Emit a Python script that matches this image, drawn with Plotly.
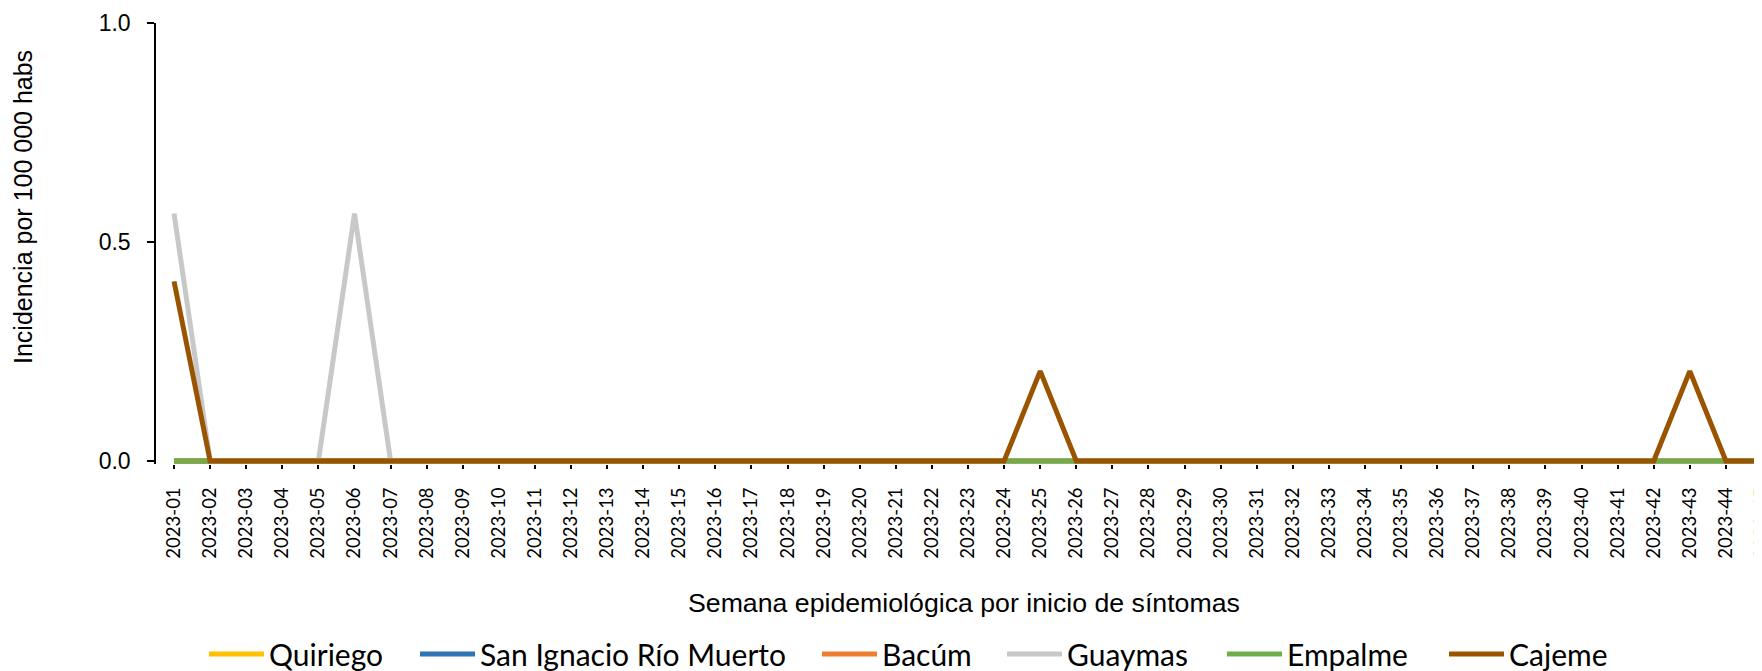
import plotly.graph_objects as go

weeks = ["2023-01", "2023-02", "2023-03", "2023-04", "2023-05", "2023-06", "2023-07", "2023-08",
         "2023-09", "2023-10", "2023-11", "2023-12", "2023-13", "2023-14", "2023-15", "2023-16",
         "2023-17", "2023-18", "2023-19", "2023-20", "2023-21", "2023-22", "2023-23", "2023-24",
         "2023-25", "2023-26", "2023-27", "2023-28", "2023-29", "2023-30", "2023-31", "2023-32",
         "2023-33", "2023-34", "2023-35", "2023-36", "2023-37", "2023-38", "2023-39", "2023-40",
         "2023-41", "2023-42", "2023-43", "2023-44", "2023-45"]

quiriego = [0, 0, 0, 0, 0, 0, 0, 0, 0, 0, 0, 0, 0, 0, 0, 0, 0, 0, 0, 0, 0, 0, 0, 0, 0,
            0, 0, 0, 0, 0, 0, 0, 0, 0, 0, 0, 0, 0, 0, 0, 0, 0, 0, 0, 0]
san_ignacio = [0, 0, 0, 0, 0, 0, 0, 0, 0, 0, 0, 0, 0, 0, 0, 0, 0, 0, 0, 0, 0, 0, 0, 0, 0,
               0, 0, 0, 0, 0, 0, 0, 0, 0, 0, 0, 0, 0, 0, 0, 0, 0, 0, 0, 0]
bacum = [0, 0, 0, 0, 0, 0, 0, 0, 0, 0, 0, 0, 0, 0, 0, 0, 0, 0, 0, 0, 0, 0, 0, 0, 0,
         0, 0, 0, 0, 0, 0, 0, 0, 0, 0, 0, 0, 0, 0, 0, 0, 0, 0, 0, 0]
guaymas = [0.565, 0, 0, 0, 0, 0.565, 0, 0, 0, 0, 0, 0, 0, 0, 0, 0, 0, 0, 0, 0, 0, 0, 0, 0, 0,
           0, 0, 0, 0, 0, 0, 0, 0, 0, 0, 0, 0, 0, 0, 0, 0, 0, 0, 0, 0]
empalme = [0, 0, 0, 0, 0, 0, 0, 0, 0, 0, 0, 0, 0, 0, 0, 0, 0, 0, 0, 0, 0, 0, 0, 0, 0,
           0, 0, 0, 0, 0, 0, 0, 0, 0, 0, 0, 0, 0, 0, 0, 0, 0, 0, 0, 0]
cajeme = [0.41, 0, 0, 0, 0, 0, 0, 0, 0, 0, 0, 0, 0, 0, 0, 0, 0, 0, 0, 0, 0, 0, 0, 0, 0.205,
          0, 0, 0, 0, 0, 0, 0, 0, 0, 0, 0, 0, 0, 0, 0, 0, 0, 0.205, 0, 0]

series_names = ["Quiriego", "San Ignacio Río Muerto", "Bacúm", "Guaymas", "Empalme", "Cajeme"]
series_values = [quiriego, san_ignacio, bacum, guaymas, empalme, cajeme]
series_colors = ["#FFC000", "#2E75B6", "#ED7D31", "#C8C8C8", "#70AD47", "#9A5400"]
legend_x_px = [210, 421, 823, 1008, 1228, 1450]

y_ticks = [0.0, 0.5, 1.0]
y_ticklabels = ["0.0", "0.5", "1.0"]

# the page body has an 8px default margin; figure sized so page is 1762x671
OFF = 8
W, H = 1762 - OFF, 671 - OFF
PLOT_TOP, PLOT_BOT, PLOT_LEFT = 23, 464, 156   # page coordinates
ML, MT = PLOT_LEFT - OFF, PLOT_TOP - OFF
MB = H - (PLOT_BOT - OFF)


def py(y_page):
    return (PLOT_BOT - y_page) / (PLOT_BOT - PLOT_TOP)


def px(x_page):
    return (x_page - PLOT_LEFT) / (1762 - PLOT_LEFT)


fig = go.Figure()
legend_ids = ["legend", "legend2", "legend3", "legend4", "legend5", "legend6"]
for name, vals, col, lid in zip(series_names, series_values, series_colors, legend_ids):
    fig.add_trace(go.Scatter(
        x=weeks, y=vals, mode="lines", name=name, legend=lid,
        line=dict(color=col, width=5),
    ))

layout_legends = {}
for lid, lx in zip(legend_ids, legend_x_px):
    layout_legends[lid] = dict(
        orientation="h", xref="container", yref="container",
        x=(lx - 14) / W, xanchor="left",
        y=1 - 646 / H, yanchor="middle",
        font=dict(family="Lato, Carlito, Calibri, sans-serif", size=30, color="#000000"),
        itemwidth=55, bgcolor="rgba(0,0,0,0)", borderwidth=0,
    )

fig.update_layout(
    width=W, height=H,
    margin=dict(l=ML, r=0, t=MT, b=MB, pad=0, autoexpand=False),
    paper_bgcolor="white", plot_bgcolor="white",
    showlegend=True,
    **layout_legends,
)

fig.update_xaxes(
    type="category", categoryorder="array", categoryarray=weeks,
    range=[-0.5, 44.0], automargin=False, ticklabeloverflow="allow",
    showgrid=False, zeroline=False, showline=False,
    ticks="outside", ticklen=4, tickwidth=1.5, tickcolor="#000000",
    tickangle=-90, ticklabelstandoff=11,
    tickfont=dict(family="Lato, Carlito, Calibri, sans-serif", size=18.5, color="#000000"),
)
fig.update_yaxes(
    range=[-0.007, 1.0], automargin=False,
    tickvals=y_ticks, ticktext=y_ticklabels,
    showgrid=False, zeroline=False,
    showline=True, linecolor="#000000", linewidth=1.5,
    ticks="outside", ticklen=7, tickwidth=1.5, tickcolor="#000000",
    ticklabelstandoff=12,
    tickfont=dict(family="Liberation Sans, Arial, sans-serif", size=23, color="#000000"),
)

fig.add_annotation(
    text="Incidencia por 100 000 habs", textangle=-90,
    xref="paper", yref="paper",
    x=px(23), y=py(207),
    xanchor="center", yanchor="middle", showarrow=False,
    font=dict(family="Liberation Sans, Arial, sans-serif", size=25, color="#000000"),
)
fig.add_annotation(
    text="Semana epidemiológica por inicio de síntomas",
    xref="paper", yref="paper",
    x=px(963.5), y=py(603),
    xanchor="center", yanchor="middle", showarrow=False,
    font=dict(family="Liberation Sans, Arial, sans-serif", size=26.7, color="#000000"),
)

fig.write_html("out.html")
